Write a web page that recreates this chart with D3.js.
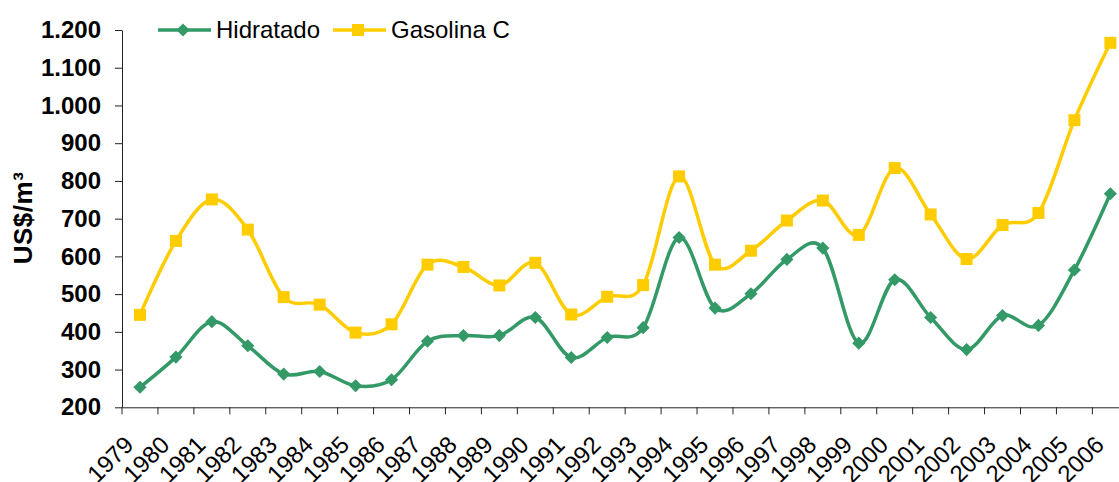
<!DOCTYPE html>
<html>
<head>
<meta charset="utf-8">
<script src="https://cdn.jsdelivr.net/npm/d3@7"></script>
<style>
  html, body { margin: 0; padding: 0; background: #fff; }
  svg { display: block; font-family: "Liberation Sans", Arial, sans-serif; }
</style>
</head>
<body>
<div id="chart"></div>
<script>
const years = ["1979","1980","1981","1982","1983","1984","1985","1986","1987","1988",
  "1989","1990","1991","1992","1993","1994","1995","1996","1997","1998",
  "1999","2000","2001","2002","2003","2004","2005","2006"];
const hidratado = [253, 333, 427, 363, 288, 295, 257, 273, 375, 390,
  390, 438, 332, 385, 411, 650, 463, 501, 592, 622,
  370, 538, 438, 353, 443, 417, 564, 766];
const gasolina = [445, 641, 751, 671, 492, 472, 398, 420, 578, 572,
  523, 583, 446, 493, 524, 812, 578, 615, 695, 748,
  657, 834, 711, 593, 683, 715, 961, 1166];
const yTicks = [200, 300, 400, 500, 600, 700, 800, 900, 1000, 1100, 1200];

const seriesNames = ["Hidratado", "Gasolina C"];
const seriesColors = ["#339966", "#FFCC00"];

function chart() {
    const width = 1119;
    const height = 482;
    const left = 122;
    const bw = 35.94;

    const x = d3.scaleBand()
        .domain(years)
        .range([left, left + bw * years.length])
        .paddingInner(0)
        .paddingOuter(0);

    const y = d3.scaleLinear()
        .domain([200, 1200])
        .range([407.3, 30]);

    const locale = d3.formatLocale({decimal: ",", thousands: ".", grouping: [3], currency: ["", ""]});
    const fmt = locale.format(",");

    const svg = d3.create("svg")
        .attr("width", width)
        .attr("height", height)
        .attr("viewBox", [0, 0, width, height]);

    svg.append("rect").attr("width", width).attr("height", height).attr("fill", "#fff");

    // y axis
    const yAxis = svg.append("g")
        .attr("transform", `translate(${left},0)`)
        .call(d3.axisLeft(y).tickValues(yTicks).tickSize(7).tickPadding(14).tickFormat(fmt).tickSizeOuter(0));
    yAxis.select(".domain").attr("stroke", "#222");
    yAxis.selectAll(".tick line").attr("stroke", "#222");
    yAxis.selectAll("text")
        .attr("font-size", 24)
        .attr("font-weight", "bold")
        .attr("fill", "#000")
        .attr("font-family", "Liberation Sans, Arial, sans-serif");

    // x axis, ticks between categories
    const xAxis = svg.append("g")
        .attr("transform", `translate(0,${y(200)})`)
        .call(d3.axisBottom(x).tickSize(7).tickSizeOuter(0));
    xAxis.select(".domain").attr("stroke", "#222");
    xAxis.selectAll(".tick line")
        .attr("stroke", "#222")
        .attr("x1", -x.bandwidth() / 2)
        .attr("x2", -x.bandwidth() / 2);
    xAxis.selectAll("text")
        .attr("font-size", 24)
        .attr("fill", "#000")
        .attr("font-family", "Liberation Sans, Arial, sans-serif")
        .attr("text-anchor", "end")
        .attr("dy", null)
        .attr("y", null)
        .attr("transform", "translate(-5,39) rotate(-45)");
    xAxis.append("line")
        .attr("x1", x.range()[1]).attr("x2", x.range()[1])
        .attr("y1", 0).attr("y2", 7)
        .attr("stroke", "#222");

    // y title
    svg.append("text")
        .attr("transform", `translate(32,218) rotate(-90)`)
        .attr("text-anchor", "middle")
        .attr("font-size", 26)
        .attr("font-weight", "bold")
        .attr("letter-spacing", 0.5)
        .text("US$/m³");

    const line = d3.line()
        .x((d, i) => x(years[i]) + x.bandwidth() / 2)
        .y(d => y(d))
        .curve(d3.curveCardinal.tension(0));

    const diamond = d3.symbol().type(d3.symbolDiamond2).size(110);
    const square = d3.symbol().type(d3.symbolSquare).size(144);

    [hidratado, gasolina].forEach((values, k) => {
        svg.append("path")
            .datum(values)
            .attr("fill", "none")
            .attr("stroke", seriesColors[k])
            .attr("stroke-width", 3.5)
            .attr("d", line);
        svg.append("g")
            .selectAll("path")
            .data(values)
            .join("path")
            .attr("transform", (d, i) => `translate(${x(years[i]) + x.bandwidth() / 2},${y(d)})`)
            .attr("d", k === 0 ? diamond : square)
            .attr("fill", seriesColors[k]);
    });

    // legend
    const legendX = [158, 333];
    const legend = svg.append("g");
    seriesNames.forEach((name, k) => {
        const g = legend.append("g").attr("transform", `translate(${legendX[k]},30)`);
        g.append("line")
            .attr("x1", 0).attr("x2", 53)
            .attr("stroke", seriesColors[k])
            .attr("stroke-width", 3.5);
        g.append("path")
            .attr("transform", "translate(25,0)")
            .attr("d", k === 0 ? diamond : square)
            .attr("fill", seriesColors[k]);
        g.append("text")
            .attr("x", 58)
            .attr("y", 8)
            .attr("font-size", 24)
            .attr("fill", "#000")
            .text(name);
    });

    return svg.node();
}

document.getElementById("chart").appendChild(chart());
</script>
</body>
</html>
